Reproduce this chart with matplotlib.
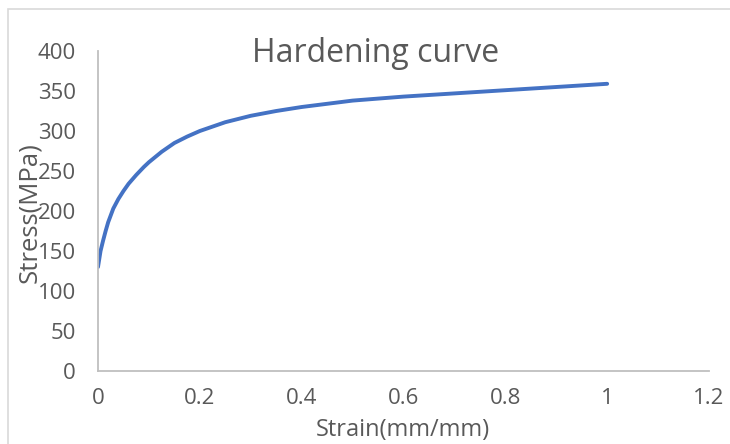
import numpy as np
import matplotlib.pyplot as plt
from matplotlib.patches import Rectangle

# hardening curve, values
strain = [0, 0.005, 0.01, 0.015, 0.02, 0.03, 0.04, 0.05, 0.06, 0.075, 0.09,
          0.1, 0.125, 0.15, 0.175, 0.2, 0.25, 0.3, 0.35, 0.4, 0.45, 0.5,
          0.6, 0.7, 0.8, 0.9, 1.0]
stress = [130, 150, 163, 175, 186, 203, 215, 225, 234, 245, 255,
          261, 274, 285, 293, 300, 311, 319, 325, 330, 334, 338,
          343, 347, 351, 355, 359]

x_ticks = [0, 0.2, 0.4, 0.6, 0.8, 1, 1.2]
x_tick_labels = ['0', '0.2', '0.4', '0.6', '0.8', '1', '1.2']
y_ticks = [0, 50, 100, 150, 200, 250, 300, 350, 400]

plt.rcParams['font.family'] = ['Open Sans', 'DejaVu Sans']
grey = '#595959'
axis_grey = '#bfbfbf'

fig = plt.figure(figsize=(7.3, 4.44), dpi=100)
ax = fig.add_axes([98 / 730, 1 - 371 / 444, (709 - 98) / 730, (371 - 51) / 444])

ax.plot(strain, stress, color='#4472c4', lw=2.8, solid_capstyle='round')

ax.set_xlim(0, 1.2)
ax.set_ylim(0, 400)
ax.set_xticks(x_ticks)
ax.set_xticklabels(x_tick_labels)
ax.set_yticks(y_ticks)
ax.tick_params(length=0, labelsize=16, colors=grey)
ax.tick_params(axis='x', pad=12)
ax.tick_params(axis='y', pad=16)

for s in ['top', 'right']:
    ax.spines[s].set_visible(False)
for s in ['left', 'bottom']:
    ax.spines[s].set_color(axis_grey)
    ax.spines[s].set_linewidth(1.3)

fig.text(403 / 730, 1 - 430 / 444, 'Strain(mm/mm)', fontsize=17,
         color=grey, ha='center', va='center')
fig.text(30 / 730, 1 - 213 / 444, 'Stress(MPa)', rotation=90, fontsize=18.5,
         color=grey, ha='center', va='center')
fig.text(376 / 730, 1 - 53 / 444, 'Hardening curve', fontsize=23,
         color=grey, ha='center', va='center')

# chart border like the spreadsheet frame
fig.patches.append(Rectangle((8 / 730, -0.1), 1.0, 1 - 9 / 444 + 0.1,
                             transform=fig.transFigure, fill=False,
                             edgecolor='#d9d9d9', lw=1.2))

plt.savefig('out.png', dpi=100)
